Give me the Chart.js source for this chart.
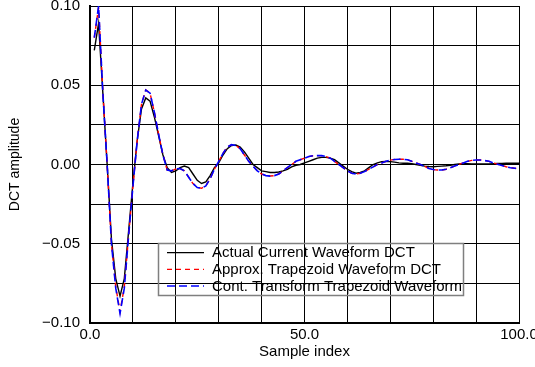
<!DOCTYPE html>
<html>
<head>
<meta charset="utf-8">
<script src="https://cdn.jsdelivr.net/npm/chart.js@4/dist/chart.umd.min.js"></script>
<style>
html,body{margin:0;padding:0;background:#fff;}
#wrap{width:535px;height:367px;}
</style>
</head>
<body>
<div id="wrap"><canvas id="c" width="535" height="367"></canvas></div>
<script>
// ---- data ----
const sampleIndex = [1,2,3,4,5,6,7,8,9,10,11,12,13,14,15,16,17,18,19,20,21,22,23,24,25,26,27,28,29,30,31,32,33,34,35,36,37,38,39,40,41,42,43,44,45,46,47,48,49,50,51,52,53,54,55,56,57,58,59,60,61,62,63,64,65,66,67,68,69,70,71,72,73,74,75,76,77,78,79,80,81,82,83,84,85,86,87,88,89,90,91,92,93,94,95,96,97,98,99,100];

const actualDCT = [0.072,0.089,0.045,0.000,-0.047,-0.072,-0.083,-0.072,-0.042,-0.012,
  0.015,0.035,0.042,0.040,0.030,0.018,0.006,-0.002,-0.005,-0.004,
  -0.002,-0.001,-0.002,-0.006,-0.010,-0.012,-0.011,-0.007,-0.002,0.001,
  0.006,0.010,0.012,0.0123,0.011,0.008,0.004,0.000,-0.002,-0.004,
  -0.0045,-0.005,-0.005,-0.0047,-0.004,-0.003,-0.0015,-0.0005,0.000,0.001,
  0.002,0.003,0.004,0.0045,0.0045,0.004,0.003,0.001,-0.001,-0.003,
  -0.0045,-0.0055,-0.005,-0.004,-0.002,0.000,0.001,0.0018,0.002,0.0018,
  0.0015,0.001,0.0008,0.0008,0.0005,0.000,-0.0005,-0.001,-0.0013,-0.0014,
  -0.0012,-0.001,-0.0008,-0.0005,0.000,0.0003,0.0005,0.0005,0.0004,0.0003,
  0.0003,0.0003,0.0004,0.0005,0.0006,0.0007,0.0008,0.0008,0.0008,0.0008];

const approxTrapDCT = [0.080,0.099,0.046,0.000,-0.050,-0.077,-0.093,-0.077,-0.045,-0.014,
  0.015,0.038,0.047,0.045,0.033,0.019,0.006,-0.0035,-0.004,-0.0028,
  -0.0025,-0.004,-0.008,-0.012,-0.0145,-0.015,-0.0135,-0.009,-0.003,0.002,
  0.007,0.011,0.0125,0.012,0.010,0.006,0.002,-0.001,-0.004,-0.006,
  -0.007,-0.0073,-0.007,-0.006,-0.004,-0.002,0.000,0.002,0.003,0.004,
  0.005,0.0055,0.0056,0.0056,0.005,0.004,0.002,0.000,-0.002,-0.004,
  -0.0055,-0.006,-0.0055,-0.0045,-0.003,-0.0015,0.000,0.001,0.002,0.0028,
  0.0032,0.0033,0.0033,0.003,0.002,0.001,0.000,-0.0012,-0.0025,-0.0032,
  -0.0035,-0.0035,-0.003,-0.002,-0.001,0.000,0.001,0.002,0.0026,0.0028,
  0.0028,0.0025,0.002,0.001,0.0002,-0.0006,-0.0014,-0.002,-0.0024,-0.0025];

const contTrapDCT = [0.080,0.100,0.045,0.000,-0.050,-0.078,-0.094,-0.078,-0.045,-0.014,
  0.015,0.038,0.047,0.045,0.033,0.019,0.006,-0.0035,-0.004,-0.0028,
  -0.0025,-0.004,-0.008,-0.012,-0.0145,-0.015,-0.0135,-0.009,-0.003,0.002,
  0.007,0.011,0.0125,0.012,0.010,0.006,0.002,-0.001,-0.004,-0.006,
  -0.007,-0.0073,-0.007,-0.006,-0.004,-0.002,0.000,0.002,0.003,0.004,
  0.005,0.0055,0.0056,0.0056,0.005,0.004,0.002,0.000,-0.002,-0.004,
  -0.0055,-0.006,-0.0055,-0.0045,-0.003,-0.0015,0.000,0.001,0.002,0.0028,
  0.0032,0.0033,0.0033,0.003,0.002,0.001,0.000,-0.0012,-0.0025,-0.0032,
  -0.0035,-0.0035,-0.003,-0.002,-0.001,0.000,0.001,0.002,0.0026,0.0028,
  0.0028,0.0025,0.002,0.001,0.0002,-0.0006,-0.0014,-0.002,-0.0024,-0.0025];

const seriesNames = ['Actual Current Waveform DCT','Approx. Trapezoid Waveform DCT','Cont. Transform Trapezoid Waveform'];
const xTickLabels = [0, 50, 100];
const yTickLabels = [-0.10, -0.05, 0.00, 0.05, 0.10];
const xTitle = 'Sample index';
const yTitle = 'DCT amplitude';

// ---- chart ----
const FONT = "'Liberation Sans', Arial, sans-serif";
function pts(vals){ return sampleIndex.map((x,i)=>({x:x, y:vals[i]})); }
function near(v, list){ return list.some(t => Math.abs(v - t) < 1e-9); }

const legendPlugin = {
  id: 'inLegend',
  afterDraw(chart){
    const ctx = chart.ctx;
    ctx.save();
    ctx.strokeStyle = '#7f7f7f';
    ctx.lineWidth = 1.5;
    ctx.strokeRect(158.5, 243.5, 305, 52);
    const rows = [252.7, 269.3, 286];
    const styles = [
      {c:'#000000', d:[], w:1.3},
      {c:'#ff0000', d:[5,4], w:1.3},
      {c:'#0000ff', d:[8,4], w:1.5}
    ];
    ctx.font = '15px ' + FONT;
    ctx.textBaseline = 'middle';
    ctx.textAlign = 'left';
    rows.forEach((y,i)=>{
      ctx.beginPath();
      ctx.strokeStyle = styles[i].c;
      ctx.lineWidth = styles[i].w;
      ctx.setLineDash(styles[i].d);
      ctx.moveTo(167, y); ctx.lineTo(204, y);
      ctx.stroke();
      ctx.setLineDash([]);
      ctx.fillStyle = '#000';
      ctx.fillText(seriesNames[i], 212, y + 0.5);
    });
    ctx.restore();
  }
};

new Chart(document.getElementById('c'), {
  type: 'line',
  data: {
    datasets: [
      {label: seriesNames[0], data: pts(actualDCT), borderColor:'#000', borderWidth:1.4, pointRadius:0, tension:0, order:2},
      {label: seriesNames[1], data: pts(approxTrapDCT), borderColor:'#ff0000', borderWidth:1.4, borderDash:[5,4], pointRadius:0, tension:0, order:1},
      {label: seriesNames[2], data: pts(contTrapDCT), borderColor:'#0000ff', borderWidth:1.6, borderDash:[8,4], pointRadius:0, tension:0, order:0}
    ]
  },
  options: {
    responsive: false,
    animation: false,
    devicePixelRatio: 1,
    layout: {padding: {top: 6, right: 16, bottom: 0, left: 0}},
    plugins: {legend: {display:false}, tooltip: {enabled:false}},
    scales: {
      x: {
        type: 'linear', min: 0, max: 100,
        ticks: {
          stepSize: 10, autoSkip: false, maxRotation: 0, padding: 3,
          color: '#000', font: {family: FONT, size: 15},
          callback: v => near(v, xTickLabels) ? v.toFixed(1) : ''
        },
        grid: {color: '#000', lineWidth: 1, drawTicks: false},
        border: {color: '#000', width: 2},
        title: {display: true, text: xTitle, color:'#000', font:{family: FONT, size: 15}, padding:{top:0, bottom:6}},
        afterFit: s => { s.height = 44; s.paddingLeft = 0; s.paddingRight = 0; }
      },
      y: {
        min: -0.1, max: 0.1,
        ticks: {
          stepSize: 0.025, autoSkip: false, padding: 10,
          color: '#000', font: {family: FONT, size: 15},
          callback: v => {
            if (!near(v, yTickLabels)) return '';
            if (Math.abs(v) < 1e-9) return '0.00';
            return v.toFixed(2).replace('-', '\u2212');
          }
        },
        grid: {color: '#000', lineWidth: 1, drawTicks: false},
        border: {color: '#000', width: 2},
        title: {display: true, text: yTitle, color:'#000', font:{family: FONT, size: 14}, padding:{top:7, bottom:0}},
        afterFit: s => { s.width = 90; s.paddingTop = 0; s.paddingBottom = 0; }
      }
    }
  },
  plugins: [legendPlugin]
});
</script>
</body>
</html>
